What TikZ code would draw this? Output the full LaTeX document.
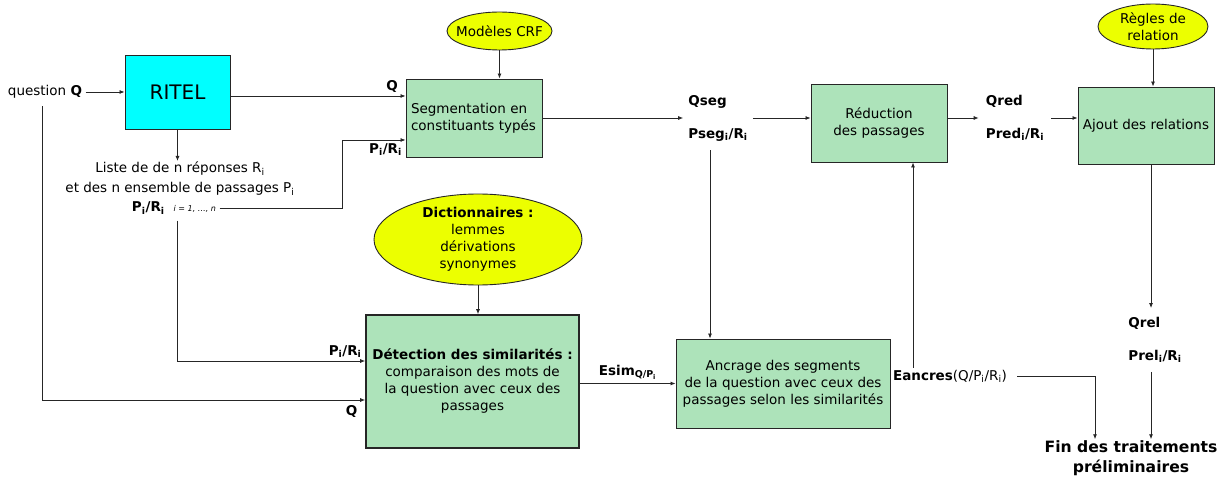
\documentclass[tikz,border=0pt]{standalone}
\usepackage{fontspec}
\setmainfont{DejaVu Sans}
\usetikzlibrary{arrows.meta,shapes.geometric}
\definecolor{boxgreen}{RGB}{173,227,186}
\definecolor{ritelcyan}{RGB}{0,255,255}
\definecolor{srcyellow}{RGB}{236,255,0}
\newcommand{\diagfont}{\fontsize{13.5}{17}\selectfont}
\newcommand{\sbi}[1]{\textsubscript{#1}}
\tikzset{
	etape/.style={draw=black!85, fill=boxgreen, line width=0.9pt, inner sep=4pt},
	source/.style={ellipse, draw=black!85, fill=srcyellow, line width=0.9pt, inner sep=0pt, align=center},
	lbl/.style={font=\diagfont\bfseries},
	fleche/.style={-{Latex[length=5pt,width=4pt]}, line width=0.8pt, draw=black!85},
}

\begin{document}
\begin{tikzpicture}[x=1pt, y=-1pt, font=\diagfont]
		%%%%% START %%%%%
		\useasboundingbox (0,0) rectangle (1223,481);
		
		\node (question) at (45, 92) {question \textbf{Q}};
		\node[draw=black!85, fill=ritelcyan, line width=0.9pt, minimum width=105pt, minimum height=74pt, font=\fontsize{20}{24}\selectfont] (ritel) at (177.5, 92) {RITEL};
		\node[align=center, inner sep=1pt] (liste) at (180, 179) {Liste de de n réponses R\sbi{i}\\[3pt]et des n ensemble de passages P\sbi{i}};
		\node (listpr) at (174, 208) {\textbf{P\sbi{i}/R\sbi{i}}\hspace{9pt}{\fontsize{8}{9}\selectfont\itshape i = 1, …, n}};
		
		\node[source, minimum width=105pt, minimum height=38pt] (crf) at (499.5, 31) {\makebox[60pt]{Modèles CRF}};
		\node[etape, minimum width=136pt, minimum height=78pt, text width=126pt, align=left] (seg) at (474, 118) {Segmentation en\\constituants typés};
		\node[lbl, align=left, inner xsep=5pt] (segres) at (718, 118) {Qseg\\[16pt]Pseg\sbi{i}/R\sbi{i}};
		
		\node[etape, minimum width=136pt, minimum height=78pt, align=center] (red) at (879, 123) {Réduction\\des passages};
		\node[lbl, align=left, inner xsep=7pt] (redres) at (1015, 118) {Qred\\[16pt]Pred\sbi{i}/R\sbi{i}};
		
		\node[source, minimum width=110pt, minimum height=45pt] (regles) at (1153, 26.5) {Règles de\\relation};
		\node[etape, minimum width=136pt, minimum height=77pt] (ajout) at (1146, 125.5) {Ajout des relations};
		\node[lbl, align=left, inner ysep=9pt] (relres) at (1155, 340) {Qrel\\[16pt]Prel\sbi{i}/R\sbi{i}};
		\node[font=\fontsize{15.6}{20}\selectfont\bfseries, align=center, inner ysep=1pt] (fin) at (1131, 458) {Fin des traitements\\préliminaires};
		
		\node[source, minimum width=208pt, minimum height=91pt] (dico) at (478, 239.5) {\textbf{Dictionnaires :}\\lemmes\\dérivations\\synonymes};
		\node[etape, line width=1.6pt, minimum width=213pt, minimum height=133pt, align=center] (det) at (472.5, 381.5) {\textbf{Détection des similarités :}\\comparaison des mots de\\la question avec ceux des\\passages};
		\node[etape, minimum width=214pt, minimum height=89pt, align=center] (anc) at (783, 383.5) {Ancrage des segments\\de la question avec ceux des\\passages selon les similarités};
		\node[inner sep=2pt] (eanc) at (950, 376) {\textbf{Eancres}(Q/P\sbi{i}/R\sbi{i})};
		
		% connecteurs
		\draw[fleche] (question.east) -- (ritel.west);
		\draw[fleche] (ritel.south) -- (liste.north -| ritel.south);
		\draw[fleche] ([yshift=22pt]seg.west -| ritel.east) -- ([yshift=22pt]seg.west) node[lbl, above left, xshift=-4pt] {Q};
		\draw[fleche] (listpr.east) -- ++(123,0) |- ([yshift=-22pt]seg.west) node[lbl, below left] {P\sbi{i}/R\sbi{i}};
		\draw[fleche] ([yshift=-3pt]listpr.south -| ritel.south) |- ([yshift=20.5pt]det.west) node[lbl, above left] {P\sbi{i}/R\sbi{i}};
		\draw[fleche] ([shift={(-3pt,-4pt)}]question.south) |- ([yshift=-18.5pt]det.west) node[lbl, below left, xshift=-4pt, yshift=-2pt] {Q};
		
		\draw[fleche] (crf.south) -- (crf.south |- seg.north);
		\draw[fleche] (seg.east) -- (seg.east -| segres.west);
		\draw[fleche] (segres.east |- seg.east) -- (seg.east -| red.west);
		\draw[fleche] ([shift={(-8pt,-6pt)}]segres.south) -- ([xshift=-8pt]segres.south |- anc.north);
		
		\draw[fleche] (red.east |- redres.west) -- (redres.west);
		\draw[fleche] (redres.east) -- (redres.east -| ajout.west);
		\draw[fleche] (regles.south) -- (regles.south |- ajout.north);
		\draw[fleche] ([xshift=5pt]ajout.south) -- ([xshift=5pt]ajout.south |- relres.north);
		\draw[fleche] ([xshift=5pt]ajout.south |- relres.south) -- ([xshift=5pt]ajout.south |- fin.north);
		
		\draw[fleche] (dico.south) -- (dico.south |- det.north);
		\draw[fleche] (anc.west -| det.east) -- (anc.west) node[lbl, midway, above] {Esim\sbi{Q/P\sbi{i}}};
		\draw[fleche] ([xshift=-37pt]eanc.north) -- ([xshift=-37pt]eanc.north |- red.south);
		\draw[fleche] ([xshift=8pt]eanc.east) -| ([xshift=-36pt]fin.north);
		
		%%%%% END %%%%%
	\end{tikzpicture}
\end{document}
